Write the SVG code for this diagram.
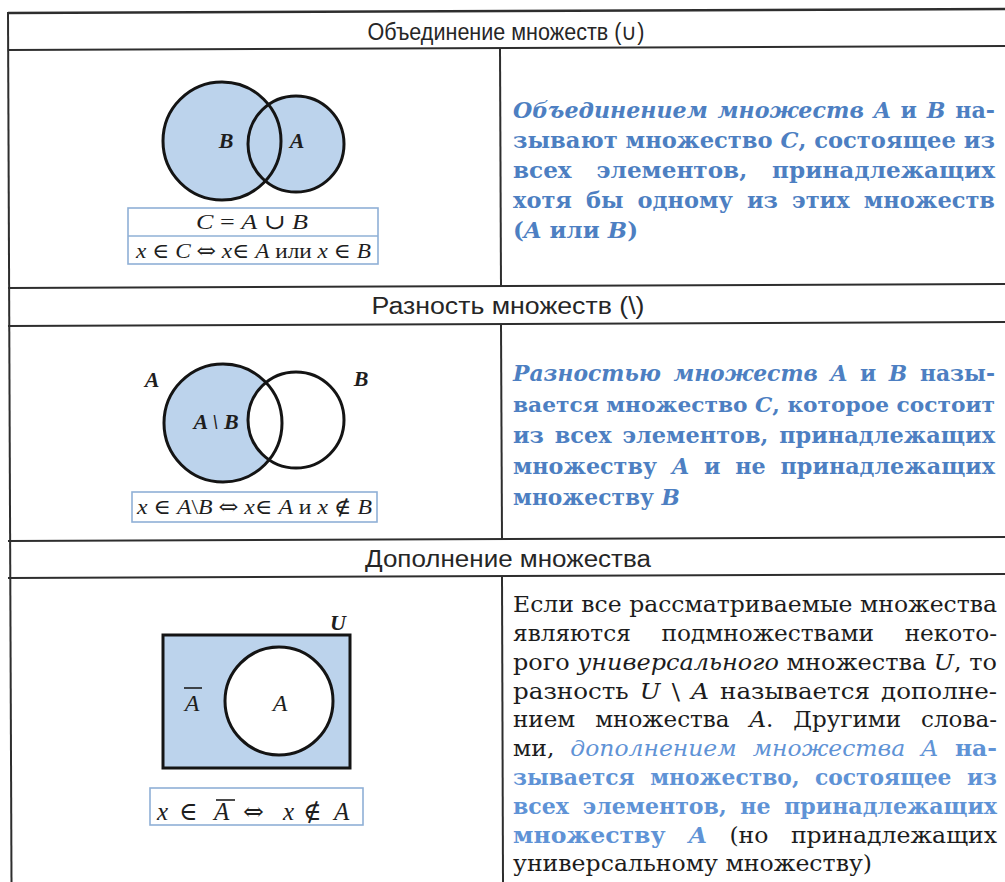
<svg xmlns="http://www.w3.org/2000/svg" width="1005" height="882" viewBox="0 0 1005 882">
<style>
.bg{fill:#ffffff}
.grid{stroke:#2e2e2e;stroke-width:2;fill:none}
.hdr{font-family:"Liberation Sans Narrow","Liberation Sans",sans-serif;font-size:23px;fill:#262626;text-anchor:middle}
.fill{fill:#bcd3ec}
.wfill{fill:#ffffff}
.ring{fill:none;stroke:#141414;stroke-width:3}
.fbox{fill:#ffffff;stroke:#8fb0d6;stroke-width:1.6}
.fml{font-family:"Liberation Serif","DejaVu Serif",serif;font-size:21px;fill:#1e1e1e}
.sym{font-family:"DejaVu Serif",serif;font-style:normal}
.lbl{font-family:"Liberation Serif","DejaVu Serif",serif;font-size:22px;font-style:italic;font-weight:bold;fill:#1e1e1e}
.i{font-style:italic}
.bt{font-family:"DejaVu Serif","Liberation Serif",serif;font-size:22px;font-weight:bold;fill:#4d7fc2}
.bt3{font-family:"DejaVu Serif","Liberation Serif",serif;font-size:22px;font-weight:bold;fill:#5f93d6}
.kt{font-family:"DejaVu Serif","Liberation Serif",serif;font-size:22px;fill:#1c1c1c}
.bl{fill:#5f93d6;font-weight:bold}
</style>
<rect class="bg" x="0" y="0" width="1005" height="882"/>

<g id="connectors">
  <line class="grid" x1="8" y1="13" x2="1005" y2="9" style="stroke-width:2.6"/>
  <line class="grid" x1="8" y1="50" x2="1005" y2="46"/>
  <line class="grid" x1="8" y1="288" x2="1005" y2="284"/>
  <line class="grid" x1="8" y1="326" x2="1005" y2="322"/>
  <line class="grid" x1="8" y1="541" x2="1005" y2="537"/>
  <line class="grid" x1="8" y1="578" x2="1005" y2="574"/>
  <line class="grid" x1="8" y1="12" x2="11.5" y2="882"/>
  <line class="grid" x1="500" y1="49" x2="501" y2="287"/>
  <line class="grid" x1="501" y1="325" x2="502" y2="540"/>
  <line class="grid" x1="502" y1="577" x2="503" y2="882"/>
</g>

<g id="header-union">
  <text class="hdr" x="506" y="40" textLength="277" lengthAdjust="spacingAndGlyphs">Объединение множеств (∪)</text>
</g>

<g id="venn-union">
  <circle class="fill" cx="222" cy="141" r="59"/>
  <circle class="fill" cx="296" cy="144" r="48"/>
  <circle class="ring" cx="222" cy="141" r="59"/>
  <circle class="ring" cx="296" cy="144" r="48"/>
  <text class="lbl" x="226" y="148" text-anchor="middle">B</text>
  <text class="lbl" x="297" y="148" text-anchor="middle">A</text>
</g>

<g id="formula-union">
  <rect class="fbox" x="128" y="208" width="250" height="56"/>
  <line class="fbox" x1="128" y1="236" x2="378" y2="236"/>
  <text class="fml" x="196" y="229" textLength="112" lengthAdjust="spacingAndGlyphs"><tspan class="i">C</tspan> = <tspan class="i">A</tspan> ∪ <tspan class="i">B</tspan></text>
  <text class="fml" x="136" y="258" textLength="235" lengthAdjust="spacingAndGlyphs"><tspan class="i">x</tspan> ∈ <tspan class="i">C</tspan> <tspan class="sym">⇔</tspan> <tspan class="i">x</tspan>∈ <tspan class="i">A</tspan> или <tspan class="i">x</tspan> ∈ <tspan class="i">B</tspan></text>
</g>

<g id="text-union">
  <text class="bt" x="513" y="118" textLength="482" lengthAdjust="spacingAndGlyphs" style="word-spacing:2px"><tspan class="i">Объединением множеств A</tspan> и <tspan class="i">B</tspan> на-</text>
  <text class="bt" x="513" y="148" textLength="482" lengthAdjust="spacingAndGlyphs">зывают множество <tspan class="i">C</tspan>, состоящее из</text>
  <text class="bt" x="513" y="178" textLength="482" lengthAdjust="spacingAndGlyphs" style="word-spacing:16px">всех элементов, принадлежащих</text>
  <text class="bt" x="513" y="208" textLength="482" lengthAdjust="spacingAndGlyphs" style="word-spacing:6px">хотя бы одному из этих множеств</text>
  <text class="bt" x="513" y="238" textLength="125" lengthAdjust="spacingAndGlyphs">(<tspan class="i">A</tspan> или <tspan class="i">B</tspan>)</text>
</g>

<g id="header-diff">
  <text class="hdr" x="508" y="314" textLength="273" lengthAdjust="spacingAndGlyphs">Разность множеств (\)</text>
</g>

<g id="venn-diff">
  <circle class="fill" cx="223" cy="423" r="59"/>
  <circle class="wfill" cx="296" cy="420" r="48"/>
  <circle class="ring" cx="223" cy="423" r="59"/>
  <circle class="ring" cx="296" cy="420" r="48"/>
  <text class="lbl" x="152" y="387" text-anchor="middle">A</text>
  <text class="lbl" x="361" y="386" text-anchor="middle">B</text>
  <text class="lbl" x="216" y="429" text-anchor="middle">A \ B</text>
</g>

<g id="formula-diff">
  <rect class="fbox" x="132" y="492" width="245" height="30"/>
  <text class="fml" x="137" y="514" textLength="235" lengthAdjust="spacingAndGlyphs"><tspan class="i">x</tspan> ∈ <tspan class="i">A</tspan>\<tspan class="i">B</tspan> <tspan class="sym">⇔</tspan> <tspan class="i">x</tspan>∈ <tspan class="i">A</tspan> и <tspan class="i">x</tspan> ∉ <tspan class="i">B</tspan></text>
</g>

<g id="text-diff">
  <text class="bt" x="513" y="381" textLength="482" lengthAdjust="spacingAndGlyphs" style="word-spacing:5px"><tspan class="i">Разностью множеств A</tspan> и <tspan class="i">B</tspan> назы-</text>
  <text class="bt" x="513" y="412" textLength="482" lengthAdjust="spacingAndGlyphs" style="font-size:21px">вается множество <tspan class="i">C</tspan>, которое состоит</text>
  <text class="bt" x="513" y="443" textLength="482" lengthAdjust="spacingAndGlyphs" style="word-spacing:3px">из всех элементов, принадлежащих</text>
  <text class="bt" x="513" y="474" textLength="482" lengthAdjust="spacingAndGlyphs" style="word-spacing:7px">множеству <tspan class="i">A</tspan> и не принадлежащих</text>
  <text class="bt" x="513" y="505" textLength="167" lengthAdjust="spacingAndGlyphs">множеству <tspan class="i">B</tspan></text>
</g>

<g id="header-complement">
  <text class="hdr" x="508" y="567" textLength="286" lengthAdjust="spacingAndGlyphs">Дополнение множества</text>
</g>

<g id="venn-complement">
  <rect class="fill" x="163" y="635" width="187" height="133"/>
  <circle class="wfill" cx="279" cy="701" r="54"/>
  <rect class="ring" x="163" y="635" width="187" height="133"/>
  <circle class="ring" cx="279" cy="701" r="54"/>
  <text class="lbl" x="338" y="630" text-anchor="middle">U</text>
  <text class="lbl" x="192" y="711" text-anchor="middle" style="font-weight:normal;font-size:24px">A</text>
  <line x1="184" y1="688" x2="202" y2="688" stroke="#1e1e1e" stroke-width="1.6"/>
  <text class="lbl" x="280" y="711" text-anchor="middle" style="font-weight:normal;font-size:24px">A</text>
</g>

<g id="formula-complement">
  <rect class="fbox" x="150" y="788" width="213" height="37"/>
  <text class="fml" y="820" style="font-size:25px"><tspan class="i" x="157">x</tspan><tspan x="179">∈</tspan><tspan class="i" x="214">A</tspan><tspan class="sym" x="243">⇔</tspan><tspan class="i" x="283">x</tspan><tspan x="303">∉</tspan><tspan class="i" x="334">A</tspan></text>
  <line x1="216" y1="800" x2="235" y2="800" stroke="#1e1e1e" stroke-width="1.6"/>
</g>

<g id="text-complement">
  <text class="kt" x="513" y="612" textLength="484" lengthAdjust="spacingAndGlyphs">Если все рассматриваемые множества</text>
  <text class="kt" x="513" y="641" textLength="484" lengthAdjust="spacingAndGlyphs" style="word-spacing:22px">являются подмножествами некото-</text>
  <text class="kt" x="513" y="670" textLength="484" lengthAdjust="spacingAndGlyphs">рого <tspan class="i">универсального</tspan> множества <tspan class="i">U</tspan>, то</text>
  <text class="kt" x="513" y="699" textLength="484" lengthAdjust="spacingAndGlyphs" style="word-spacing:3px">разность <tspan class="i">U</tspan> \ <tspan class="i">A</tspan> называется дополне-</text>
  <text class="kt" x="513" y="727" textLength="484" lengthAdjust="spacingAndGlyphs" style="word-spacing:12px">нием множества <tspan class="i">A</tspan>. Другими слова-</text>
  <text class="kt" x="513" y="756" textLength="484" lengthAdjust="spacingAndGlyphs" style="word-spacing:8px">ми, <tspan class="i" style="fill:#5f93d6">дополнением множества A</tspan><tspan class="bl"> на-</tspan></text>
  <text class="bt3" x="513" y="785" textLength="484" lengthAdjust="spacingAndGlyphs" style="word-spacing:8px">зывается множество, состоящее из</text>
  <text class="bt3" x="513" y="814" textLength="484" lengthAdjust="spacingAndGlyphs" style="word-spacing:6px">всех элементов, не принадлежащих</text>
  <text class="kt" x="513" y="843" textLength="484" lengthAdjust="spacingAndGlyphs" style="word-spacing:14px"><tspan class="bl">множеству <tspan class="i">A</tspan></tspan> (но принадлежащих</text>
  <text class="kt" x="513" y="871" textLength="359" lengthAdjust="spacingAndGlyphs">универсальному множеству)</text>
</g>
</svg>
